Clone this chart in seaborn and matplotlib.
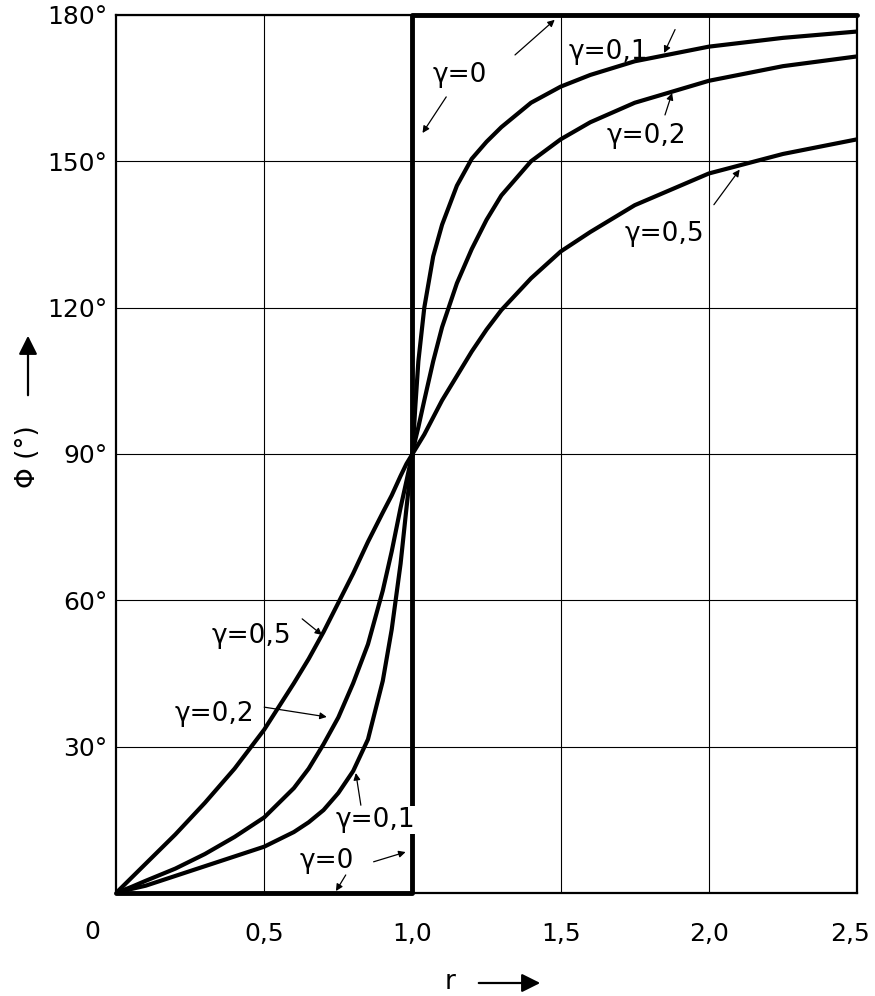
import matplotlib
matplotlib.use("Agg")
import matplotlib.pyplot as plt
import seaborn as sns

# frequency ratio r and phase angle phi (degrees)
r_pts = [0, 0.05, 0.1, 0.2, 0.3, 0.4, 0.5, 0.6, 0.65, 0.7, 0.75, 0.8, 0.85, 0.9,
         0.93, 0.96, 0.98, 0.99, 1.0, 1.01, 1.02, 1.04, 1.07, 1.1, 1.15, 1.2,
         1.25, 1.3, 1.4, 1.5, 1.6, 1.75, 2.0, 2.25, 2.5]
phi_g05 = [0, 3, 6, 12, 18.5, 25.5, 33.5, 43, 48, 53.5, 59.5, 65.5, 72, 78,
           81.5, 85.5, 88, 89, 90, 91, 92, 94, 97.5, 101, 106, 111,
           115.5, 119.5, 126, 131.5, 135.5, 141, 147.5, 151.5, 154.5]
phi_g02 = [0, 1.2, 2.5, 5, 8, 11.5, 15.5, 21.5, 25.5, 30.5, 36, 43, 51, 62,
           70, 79, 84.5, 87.3, 90, 93, 95.5, 101, 109, 116, 125, 132,
           138, 143, 150, 154.5, 158, 162, 166.5, 169.5, 171.5]
phi_g01 = [0, 0.8, 1.5, 3.5, 5.5, 7.5, 9.5, 12.5, 14.5, 17, 20.5, 25, 31.5, 43.5,
           54, 67.5, 79, 84.5, 90, 100, 109, 120, 130.5, 137, 145, 150.5,
           154, 157, 162, 165.3, 167.7, 170.5, 173.5, 175.3, 176.6]
r_g0 = [0, 1, 1, 2.5]
phi_g0 = [0, 0, 180, 180]

x_ticks = [0.5, 1.0, 1.5, 2.0, 2.5]
x_labels = ["0,5", "1,0", "1,5", "2,0", "2,5"]
y_ticks = [30, 60, 90, 120, 150, 180]
y_labels = ["30°", "60°", "90°", "120°", "150°", "180°"]

sns.set_style("white")
plt.rcParams["font.family"] = ["DejaVu Sans"]
plt.rcParams["text.color"] = "black"
plt.rcParams["xtick.color"] = "black"
plt.rcParams["ytick.color"] = "black"

fig = plt.figure(figsize=(8.75, 9.96), dpi=100)
ax = fig.add_axes([0.1326, 0.1034, 0.8469, 0.8816])

for phi in (phi_g05, phi_g02, phi_g01):
    sns.lineplot(x=r_pts, y=phi, color="black", linewidth=3, estimator=None,
                 sort=False, ax=ax, zorder=3)
sns.lineplot(x=r_g0, y=phi_g0, color="black", linewidth=3.5, estimator=None,
             sort=False, ax=ax, zorder=3, clip_on=False)

ax.set_xlim(0, 2.5)
ax.set_ylim(0, 180)
ax.set_xticks(x_ticks)
ax.set_xticklabels(x_labels)
ax.set_yticks(y_ticks)
ax.set_yticklabels(y_labels)
ax.tick_params(axis="x", length=0, pad=21, labelsize=18)
ax.tick_params(axis="y", length=0, pad=6, labelsize=18)
ax.grid(True, color="black", linewidth=0.8)
for s in ax.spines.values():
    s.set_color("black")
    s.set_linewidth(1.6)
ax.set_xlabel("")
ax.set_ylabel("")

# last x label sits slightly inside the edge
last = ax.get_xticklabels()[-1]
last.set_horizontalalignment("right")
last.set_transform(last.get_transform() + matplotlib.transforms.ScaledTranslation(0.13, 0, fig.dpi_scale_trans))

# corner zero
ax.annotate("0", xy=(0, 0), xytext=(-24, -39), textcoords="offset pixels",
            ha="center", va="center", fontsize=18)

fs = 19
def label(txt, xy, arrows=(), bg=False):
    kw = {}
    if bg:
        kw["bbox"] = dict(facecolor="white", edgecolor="none", pad=0.5)
    ax.text(xy[0], xy[1], txt, ha="center", va="center", fontsize=fs, zorder=5, **kw)
    for a, b in arrows:
        ax.annotate("", xy=b, xytext=a,
                    arrowprops=dict(arrowstyle="-|>", color="black", lw=0.9,
                                    mutation_scale=10, shrinkA=0, shrinkB=0),
                    zorder=5)

label("γ=0", (1.16, 167.7), [((1.346, 171.8), (1.48, 179)), ((1.114, 163.2), (1.034, 155.8))])
label("γ=0,1", (1.66, 172.5), [((1.886, 177), (1.849, 172.2))])
label("γ=0,2", (1.79, 155.2), [((1.852, 159.5), (1.876, 164))])
label("γ=0,5", (1.85, 135.1), [((2.017, 141.1), (2.104, 148.3))])
label("γ=0,5", (0.456, 52.7), [((0.628, 56.2), (0.695, 52.9))])
label("γ=0,2", (0.332, 36.7), [((0.5, 38.1), (0.711, 36.1))])
label("γ=0,1", (0.876, 15.0), [((0.826, 18.0), (0.809, 24.6))], bg=True)
label("γ=0", (0.711, 6.6), [((0.869, 6.4), (0.977, 8.4)), ((0.775, 3.7), (0.742, 0.4))])

# axis titles with arrows
fig.text(28 / 875, 1 - 457 / 996, "Φ (°)", rotation=90, ha="center", va="center", fontsize=19)
fig.add_artist(matplotlib.patches.FancyArrowPatch(
    (28 / 875, 1 - 398 / 996), (28 / 875, 1 - 333 / 996), transform=fig.transFigure,
    arrowstyle="-|>", mutation_scale=28, color="black", lw=1.6))
fig.text(450 / 875, 1 - 982 / 996, "r", ha="center", va="center", fontsize=19)
fig.add_artist(matplotlib.patches.FancyArrowPatch(
    (476 / 875, 1 - 983 / 996), (543 / 875, 1 - 983 / 996), transform=fig.transFigure,
    arrowstyle="-|>", mutation_scale=28, color="black", lw=1.6))

fig.savefig("out.png", dpi=100)
